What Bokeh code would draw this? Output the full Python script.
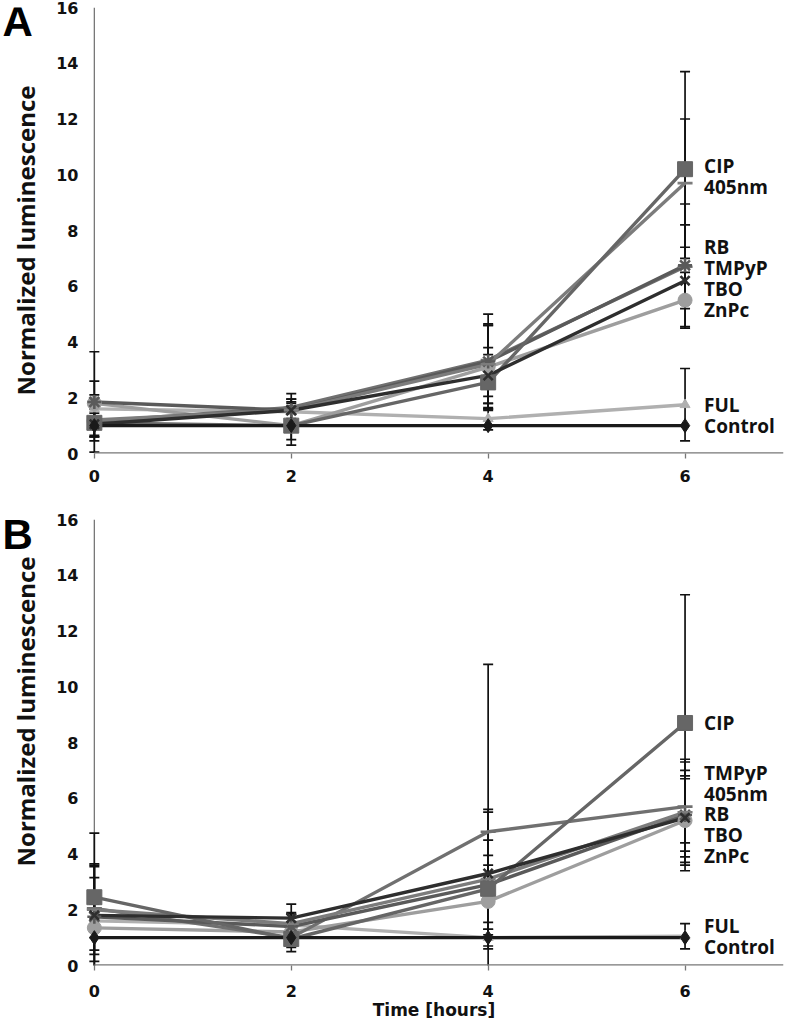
import math
from bokeh.plotting import figure
from bokeh.models import ColumnDataSource, Whisker, TeeHead, FixedTicker, Range1d, Span
from bokeh.layouts import column, row
from bokeh.core.properties import value
from bokeh.embed import file_html
from bokeh.resources import INLINE

hours = [0, 2, 4, 6]
series = ["Control", "FUL", "CIP", "405nm", "RB", "TMPyP", "TBO", "ZnPc"]
y_ticks = [0, 2, 4, 6, 8, 10, 12, 14, 16]
x_ticks = [0, 2, 4, 6]

# Panel A values (mean) and error (SD)
a_control = [1.0, 1.0, 1.0, 1.0]
a_ful = [1.6, 1.5, 1.25, 1.75]
a_cip = [1.1, 1.0, 2.55, 10.2]
a_405 = [1.2, 1.55, 3.2, 9.7]
a_rb = [1.85, 1.55, 3.3, 6.75]
a_tmpyp = [1.15, 1.65, 3.35, 6.7]
a_tbo = [1.05, 1.55, 2.8, 6.2]
a_znpc = [1.8, 1.0, 3.1, 5.5]

a_control_err = [0, 0, 0, 0]
a_ful_err = [0.5, 0.3, 0.4, 1.3]
a_cip_err = [0.5, 0.5, 1.0, 3.5]
a_405_err = [0.6, 0.4, 1.4, 2.3]
a_rb_err = [1.8, 0.4, 1.7, 2.2]
a_tmpyp_err = [0.7, 0.5, 1.3, 1.5]
a_tbo_err = [0.4, 0.3, 1.0, 0.8]
a_znpc_err = [0.8, 0.7, 1.5, 1.0]

# Panel B values (mean) and error (SD)
b_control = [1.0, 1.0, 1.0, 1.0]
b_ful = [1.6, 1.45, 1.0, 1.05]
b_cip = [2.45, 0.95, 2.75, 8.7]
b_405 = [2.0, 1.5, 3.1, 5.5]
b_rb = [1.75, 1.4, 2.9, 5.4]
b_tmpyp = [2.05, 1.0, 4.8, 5.7]
b_tbo = [1.8, 1.7, 3.3, 5.3]
b_znpc = [1.35, 1.2, 2.3, 5.2]

b_control_err = [0, 0, 0, 0]
b_ful_err = [0.6, 0.4, 0.3, 0.45]
b_cip_err = [2.3, 0.3, 1.2, 4.6]
b_405_err = [1.6, 0.4, 2.5, 1.8]
b_rb_err = [1.9, 0.3, 1.6, 2.0]
b_tmpyp_err = [1.5, 0.5, 6.0, 1.3]
b_tbo_err = [0.6, 0.5, 2.2, 1.4]
b_znpc_err = [1.8, 0.3, 1.3, 1.6]

panel_a = dict(zip(series, [a_control, a_ful, a_cip, a_405, a_rb, a_tmpyp, a_tbo, a_znpc]))
panel_a_err = dict(zip(series, [a_control_err, a_ful_err, a_cip_err, a_405_err,
                                a_rb_err, a_tmpyp_err, a_tbo_err, a_znpc_err]))
panel_b = dict(zip(series, [b_control, b_ful, b_cip, b_405, b_rb, b_tmpyp, b_tbo, b_znpc]))
panel_b_err = dict(zip(series, [b_control_err, b_ful_err, b_cip_err, b_405_err,
                                b_rb_err, b_tmpyp_err, b_tbo_err, b_znpc_err]))

styles = {
    "Control": dict(color="#1a1a1a", marker="diamond", size=14),
    "FUL": dict(color="#b0b0b0", marker="triangle", size=10),
    "CIP": dict(color="#666666", marker="square", size=15),
    "405nm": dict(color="#7c7c7c", marker="dash", size=15),
    "RB": dict(color="#5a5a5a", marker="asterisk", size=14),
    "TMPyP": dict(color="#707070", marker="dash", size=15),
    "TBO": dict(color="#2e2e2e", marker="x", size=13),
    "ZnPc": dict(color="#9e9e9e", marker="circle", size=14),
}

TICK_FONT = "DejaVu Sans"
LABEL_FONT = "Open Sans"
AXIS_GRAY = "#777777"
Y_TITLE = "Normalized luminescence"


def spread_labels(vals, gap):
    order = sorted(range(len(vals)), key=lambda i: -vals[i])
    clusters = [[i] for i in order]

    def pos(cl):
        m = sum(vals[i] for i in cl) / len(cl)
        n = len(cl)
        return [m + gap * ((n - 1) / 2 - k) for k in range(n)]

    changed = True
    while changed:
        changed = False
        for j in range(len(clusters) - 1):
            pa, pb = pos(clusters[j]), pos(clusters[j + 1])
            if pa[-1] - pb[0] < gap:
                clusters[j] = clusters[j] + clusters[j + 1]
                del clusters[j + 1]
                changed = True
                break
    out = [0.0] * len(vals)
    for cl in clusters:
        for i, y in zip(cl, pos(cl)):
            out[i] = y
    return out


SIDE_W = 46     # strip holding the panel letter and the y title
MAIN_LEFT = 38  # left border of the plotting figure (tick labels)
BASELINE_SHIFT = 17  # observed extra drop of alphabetic-baseline text


def make_side(letter, height, b_top, b_bottom, letter_base_px, title_center_px):
    # the strip's frame is aligned with the plot frame beside it (same vertical extent),
    # so positions (pixels from the strip's top) are mapped onto a 0..16 range
    frame_h = height - b_top - b_bottom
    px_per = frame_h / 16.0

    def to_y(c):
        return 16 - (c - b_top) / px_per

    s = figure(width=SIDE_W, height=height, x_range=Range1d(0, SIDE_W),
               y_range=Range1d(0, 16), output_backend="svg", toolbar_location=None,
               x_axis_location=None, y_axis_location=None,
               min_border=0, min_border_left=0, min_border_right=0,
               min_border_top=b_top, min_border_bottom=b_bottom)
    s.grid.visible = False
    s.outline_line_color = None
    s.text(x=[2], y=[to_y(letter_base_px - BASELINE_SHIFT)], text=[letter],
           text_font=value("Liberation Sans"), text_font_style="bold",
           text_font_size="42px", text_baseline="alphabetic", text_align="left",
           text_color="#000000")
    s.text(x=[25], y=[to_y(title_center_px)], text=[Y_TITLE], angle=math.pi / 2,
           text_font=value(LABEL_FONT), text_font_style="bold", text_font_size="24px",
           text_baseline="middle", text_align="center", text_color="#111111")
    return s


def make_panel(data, errs, height, b_top, b_bottom, xlabel, x_standoff):
    p = figure(width=788 - SIDE_W, height=height, x_range=Range1d(-0.1, 7),
               y_range=Range1d(0, 16), output_backend="svg", toolbar_location=None,
               min_border_left=MAIN_LEFT, min_border_right=5,
               min_border_top=b_top, min_border_bottom=b_bottom)
    p.outline_line_color = None
    p.xgrid.grid_line_color = None
    p.ygrid.grid_line_color = None

    p.yaxis.ticker = FixedTicker(ticks=y_ticks)
    p.xaxis.ticker = FixedTicker(ticks=x_ticks)
    p.yaxis.minor_tick_line_color = None
    p.xaxis.minor_tick_line_color = None
    p.yaxis.major_tick_line_color = None
    p.yaxis.major_tick_out = 0
    p.yaxis.major_tick_in = 0
    p.xaxis.major_tick_in = 0
    p.xaxis.major_tick_out = 5
    p.xaxis.major_tick_line_color = AXIS_GRAY
    p.xaxis.major_tick_line_width = 1.3
    p.axis.axis_line_color = None
    p.axis.major_label_text_font = TICK_FONT
    p.axis.major_label_text_font_style = "bold"
    p.axis.major_label_text_font_size = "16px"
    p.axis.major_label_text_color = "#111111"
    p.yaxis.major_label_standoff = 6
    p.xaxis.major_label_standoff = x_standoff
    if xlabel:
        p.xaxis.axis_label = xlabel
        p.xaxis.axis_label_text_font = TICK_FONT
        p.xaxis.axis_label_text_font_style = "bold"
        p.xaxis.axis_label_text_font_size = "17px"
        p.xaxis.axis_label_text_color = "#111111"
        p.xaxis.axis_label_standoff = 0

    # axis lines drawn at the data origin
    p.add_layout(Span(location=0, dimension="height", line_color=AXIS_GRAY,
                      line_width=1.3, level="underlay"))
    p.segment(x0=[0], y0=[0], x1=[7], y1=[0], line_color=AXIS_GRAY, line_width=2.6)

    # error bars
    for name in series:
        xs, lo, hi = [], [], []
        for h, v, e in zip(hours, data[name], errs[name]):
            if e > 0:
                xs.append(h)
                lo.append(v - e)
                hi.append(v + e)
        if xs:
            src = ColumnDataSource(dict(x=xs, lower=lo, upper=hi))
            w = Whisker(base="x", lower="lower", upper="upper", source=src,
                        line_color="#111111", line_width=1.7,
                        upper_head=TeeHead(size=10, line_color="#111111", line_width=1.7),
                        lower_head=TeeHead(size=10, line_color="#111111", line_width=1.7))
            p.add_layout(w)

    # lines and markers
    draw_order = ["FUL", "ZnPc", "TMPyP", "RB", "405nm", "CIP", "TBO", "Control"]
    for name in draw_order:
        st = styles[name]
        p.line(hours, data[name], line_color=st["color"], line_width=3.4)
    for name in draw_order:
        st = styles[name]
        lw = 2.6 if st["marker"] in ("x", "asterisk", "dash", "cross") else 1
        p.scatter(hours, data[name], marker=st["marker"], size=st["size"],
                  fill_color=st["color"], line_color=st["color"], line_width=lw)

    # series labels at the last time point
    finals = [data[n][-1] for n in series]
    label_y = spread_labels(finals, 0.75)
    lsrc = ColumnDataSource(dict(x=[hours[-1]] * len(series), y=label_y, t=series))
    p.text(x="x", y="y", text="t", source=lsrc, x_offset=19,
           text_font=value(LABEL_FONT), text_font_style="bold", text_font_size="19px",
           text_baseline="middle", text_align="left", text_color="#111111")
    return p


H1, T1, B1 = 488, 7, 35
H2, T2, B2 = 536, 31, 59

s1 = make_side("A", H1, T1, B1, 38, 240)
p1 = make_panel(panel_a, panel_a_err, H1, T1, B1, None, 11)
s2 = make_side("B", H2, T2, B2, 63, 223)
p2 = make_panel(panel_b, panel_b_err, H2, T2, B2, "Time [hours]", 14)

layout = column(row(s1, p1, spacing=0), row(s2, p2, spacing=0), spacing=0)
open("out.html", "w").write(file_html(layout, INLINE))
